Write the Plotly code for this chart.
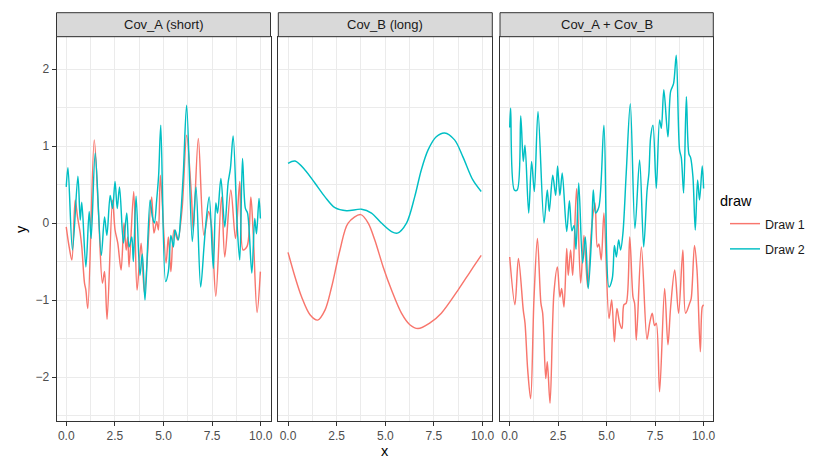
import plotly.graph_objects as go

# ---------------- data ----------------
panels = ["Cov_A (short)", "Cov_B (long)", "Cov_A + Cov_B"]
draws = ["Draw 1", "Draw 2"]
colors = ["#F8766D", "#00BFC4"]
legend_title = "draw"

# Panel 1: Cov_A (short)
a_d1_x = [0, 0.15, 0.29, 0.46, 0.58, 0.72, 0.8, 0.94, 1.01, 1.11, 1.44, 1.66, 1.86, 1.97, 2.1,
          2.38, 2.51, 2.65, 2.82, 2.97, 3.08, 3.16, 3.23, 3.47, 3.64, 3.85, 4.02, 4.39, 4.51,
          4.65, 4.74, 4.84, 5.13, 5.25, 5.38, 5.54, 5.73, 5.95, 6.19, 6.44, 6.53, 6.79, 7.08,
          7.32, 7.47, 7.69, 7.98, 8.15, 8.46, 8.7, 8.92, 9.09, 9.3, 9.49, 9.61, 9.81, 9.98]
a_d1_y = [-0.05, -0.31, -0.48, 0.3, 0.08, -0.13, -0.31, -0.78, -0.87, -1.11, 1.08, 0.13, -0.78,
          -0.63, -1.25, 0.3, -0.09, -0.26, -0.61, 0.0, -0.35, -0.18, -0.57, 0.41, -0.87, -0.26,
          -0.91, 0.34, -0.13, 0.02, -0.09, 0.62, -0.52, -0.18, -0.63, -0.09, -0.22, 0.17, 1.14,
          0.34, -0.09, 1.1, -0.16, 0.15, -0.05, -0.95, 0.34, -0.44, 0.43, -0.2, 0.54, -0.35,
          -0.3, 0.34, -0.13, -1.16, -0.63]
a_d2_x = [0, 0.09, 0.32, 0.6, 0.72, 0.8, 1.01, 1.18, 1.28, 1.49, 1.8, 1.97, 2.09, 2.26, 2.38,
          2.51, 2.62, 2.74, 2.94, 3.11, 3.23, 3.37, 3.45, 3.59, 3.79, 3.91, 4.05, 4.31, 4.43,
          4.53, 4.65, 4.75, 4.86, 5.11, 5.25, 5.38, 5.51, 5.59, 5.76, 5.88, 6.02, 6.19, 6.48,
          6.67, 6.91, 7.08, 7.18, 7.35, 7.56, 7.69, 7.78, 7.95, 8.15, 8.32, 8.44, 8.58, 8.79,
          8.92, 9.06, 9.21, 9.32, 9.54, 9.69, 9.78, 9.91, 9.98]
a_d2_y = [0.47, 0.72, -0.35, 0.61, 0.04, 0.27, -0.57, 0.15, -0.2, 0.91, -0.42, 0.08, -0.16,
          0.36, 0.19, 0.54, 0.19, 0.47, -0.26, 0.13, -0.31, -0.18, -0.5, 0.35, -0.68, -0.4,
          -1.0, 0.3, 0.08, 0.0, 0.3, 0.62, 1.27, -0.76, -0.63, -0.16, -0.31, -0.09, -0.22, 0.08,
          0.65, 1.53, -0.24, 0.47, -0.83, -0.31, 0.0, 0.34, -0.59, 0.26, 0.13, 0.58, -0.05,
          0.52, 0.71, 1.13, -0.05, -0.48, 0.84, 0.19, 0.13, -0.65, 0.06, -0.14, 0.32, 0.06]

# Panel 2: Cov_B (long)
b_d1_x = [0, 0.36, 0.7, 1.13, 1.52, 1.9, 2.24, 2.67, 3.09, 3.74, 4.12, 4.46, 4.89, 5.32, 5.83,
          6.26, 6.68, 7.28, 7.88, 8.74, 9.42, 9.93]
b_d1_y = [-0.38, -0.7, -0.96, -1.19, -1.26, -1.13, -0.83, -0.35, 0.0, 0.11, 0.0, -0.22, -0.57,
          -0.87, -1.17, -1.32, -1.37, -1.3, -1.17, -0.87, -0.61, -0.42]
b_d2_x = [0, 0.36, 0.87, 1.38, 1.9, 2.41, 3.01, 3.78, 4.29, 4.8, 5.32, 5.62, 6.09, 6.51, 6.85,
          7.2, 7.62, 8.05, 8.56, 8.99, 9.5, 9.93]
b_d2_y = [0.775, 0.805, 0.69, 0.52, 0.34, 0.2, 0.16, 0.18, 0.13, 0.0, -0.11, -0.13, 0.0, 0.34,
          0.69, 0.95, 1.12, 1.17, 1.08, 0.86, 0.56, 0.41]

# Panel 3: Cov_A + Cov_B
c_d1_x = [0, 0.27, 0.45, 0.7, 0.79, 0.93, 1.08, 1.25, 1.43, 1.61, 1.7, 1.86, 1.94, 2.08, 2.28,
          2.46, 2.59, 2.68, 2.8, 2.94, 3.02, 3.14, 3.25, 3.45, 3.66, 3.83, 4.02, 4.23, 4.4,
          4.52, 4.6, 4.72, 4.86, 5.12, 5.26, 5.4, 5.53, 5.67, 5.79, 5.89, 6.01, 6.19, 6.36,
          6.44, 6.53, 6.79, 7.08, 7.22, 7.35, 7.47, 7.56, 7.73, 7.99, 8.16, 8.3, 8.51, 8.71,
          8.93, 9.07, 9.28, 9.36, 9.53, 9.66, 9.83, 9.93, 10.0]
c_d1_y = [-0.44, -1.06, -0.46, -1.13, -1.3, -1.91, -2.28, -1.0, -0.2, -1.04, -1.17, -2.02, -1.8,
          -2.34, -0.91, -0.57, -0.96, -0.85, -1.09, -0.33, -0.68, -0.35, -0.68, 0.45, -0.78,
          -0.16, -0.83, -0.05, 0.26, -0.31, -0.27, -0.48, 0.13, -1.24, -1.0, -1.54, -1.11, -1.3,
          -1.37, -1.06, -1.04, -0.18, -0.96, -1.04, -1.52, -0.31, -1.51, -1.3, -1.17, -1.33,
          -1.3, -2.19, -0.85, -1.58, -1.09, -0.61, -1.17, -0.35, -1.17, -1.04, -0.98, -0.29,
          -0.61, -1.67, -1.09, -1.06]
c_d2_x = [0, 0.05, 0.24, 0.39, 0.57, 0.7, 0.79, 0.98, 1.13, 1.27, 1.46, 1.77, 1.94, 2.04, 2.22,
          2.37, 2.47, 2.59, 2.71, 2.94, 3.08, 3.21, 3.32, 3.42, 3.56, 3.76, 3.9, 4.05, 4.23,
          4.31, 4.43, 4.6, 4.86, 5.12, 5.29, 5.4, 5.5, 5.62, 5.72, 5.84, 6.01, 6.22, 6.46, 6.7,
          6.91, 7.08, 7.18, 7.27, 7.39, 7.56, 7.73, 7.82, 7.95, 8.16, 8.3, 8.45, 8.59, 8.76,
          8.85, 8.97, 9.11, 9.24, 9.33, 9.45, 9.57, 9.69, 9.79, 9.93, 10.0]
c_d2_y = [1.24, 1.49, 0.43, 0.43, 1.39, 0.8, 1.01, 0.13, 0.8, 0.41, 1.45, 0.0, 0.43, 0.15, 0.62,
          0.36, 0.74, 0.36, 0.65, -0.11, 0.29, -0.1, -0.03, -0.34, 0.52, -0.52, -0.18, -0.85,
          -0.13, 0.43, 0.13, 0.21, 1.27, -0.83, -0.72, -0.29, -0.44, -0.22, -0.35, -0.13, 0.65,
          1.55, -0.07, 0.82, -0.31, 0.41, 0.65, 1.12, 1.27, 0.45, 1.34, 1.23, 1.73, 1.12, 1.71,
          1.81, 2.18, 0.95, 0.85, 0.39, 1.64, 0.9, 0.85, 0.6, -0.09, 0.56, 0.3, 0.74, 0.45]

x_tick_vals = [0, 2.5, 5, 7.5, 10]
x_tick_text = ["0.0", "2.5", "5.0", "7.5", "10.0"]
y_tick_vals = [-2, -1, 0, 1, 2]
y_tick_text = ["\u22122", "\u22121", "0", "1", "2"]

series = [
    [(a_d1_x, a_d1_y), (a_d2_x, a_d2_y)],
    [(b_d1_x, b_d1_y), (b_d2_x, b_d2_y)],
    [(c_d1_x, c_d1_y), (c_d2_x, c_d2_y)],
]

# ---------------- layout geometry ----------------
W, H = 818, 463
px_dom = [(56.5, 270.5), (278.3, 492.3), (500.0, 713.3)]
top_px, bot_px = 36.7, 421.0
strip_top_px = 12.7

def fx(p):
    return p / W

def fy(p):
    return 1 - p / H

FONT = "Liberation Sans, Arial, Helvetica, sans-serif"

fig = go.Figure()

for i, pan in enumerate(series):
    suffix = "" if i == 0 else str(i + 1)
    for j, (xs, ys) in enumerate(pan):
        fig.add_trace(go.Scatter(
            x=xs, y=ys, mode="lines", name=draws[j], legendgroup=draws[j],
            showlegend=(i == 0),
            line=dict(color=colors[j], width=1.45, shape="spline", smoothing=0.9),
            xaxis="x" + suffix, yaxis="y" + suffix, hoverinfo="skip",
        ))

layout = dict(
    width=W, height=H,
    margin=dict(l=0, r=0, t=0, b=0, autoexpand=False),
    paper_bgcolor="white", plot_bgcolor="white",
    font=dict(family=FONT, color="#4D4D4D"),
    showlegend=True,
    legend=dict(
        font=dict(size=12.5, color="#1A1A1A", family=FONT),
        x=fx(725), xanchor="left", y=fy(209), yanchor="top",
        bgcolor="rgba(0,0,0,0)", tracegroupgap=6, itemwidth=30,
    ),
)

shapes = []
annotations = []
for i, (l, r) in enumerate(px_dom):
    suffix = "" if i == 0 else str(i + 1)
    layout["xaxis" + suffix] = dict(
        domain=[fx(l), fx(r)], anchor="y" + suffix, range=[-0.5, 10.5],
        tickmode="array", tickvals=x_tick_vals, ticktext=x_tick_text,
        ticks="outside", ticklen=4, tickwidth=1, tickcolor="#333333",
        tickfont=dict(size=12, color="#4D4D4D", family=FONT),
        showgrid=True, gridcolor="#EBEBEB", gridwidth=1.1,
        minor=dict(tickmode="array", tickvals=[1.25, 3.75, 6.25, 8.75], showgrid=True,
                   gridcolor="#EBEBEB", gridwidth=0.55, ticks=""),
        showline=True, mirror=True, linecolor="#333333", linewidth=1,
        zeroline=False, automargin=False, fixedrange=True,
    )
    layout["yaxis" + suffix] = dict(
        domain=[fy(bot_px), fy(top_px)], anchor="x" + suffix, range=[-2.57, 2.42],
        tickmode="array", tickvals=y_tick_vals, ticktext=y_tick_text,
        ticks="outside" if i == 0 else "", ticklen=4, tickwidth=1, tickcolor="#333333",
        showticklabels=(i == 0),
        tickfont=dict(size=12, color="#4D4D4D", family=FONT),
        showgrid=True, gridcolor="#EBEBEB", gridwidth=1.1,
        minor=dict(tickmode="array", tickvals=[-2.5, -1.5, -0.5, 0.5, 1.5], showgrid=True,
                   gridcolor="#EBEBEB", gridwidth=0.55, ticks=""),
        showline=True, mirror=True, linecolor="#333333", linewidth=1,
        zeroline=False, automargin=False, fixedrange=True,
    )
    shapes.append(dict(type="rect", xref="paper", yref="paper",
                       x0=fx(l), x1=fx(r), y0=fy(top_px), y1=fy(strip_top_px),
                       fillcolor="#D9D9D9", line=dict(color="#333333", width=1), layer="above"))
    annotations.append(dict(text=panels[i], xref="paper", yref="paper",
                            x=fx((l + r) / 2), y=fy((top_px + strip_top_px) / 2),
                            xanchor="center", yanchor="middle", showarrow=False,
                            font=dict(size=13, color="#1A1A1A", family=FONT)))

annotations.append(dict(text="x", xref="paper", yref="paper", x=fx(385), y=fy(451),
                        xanchor="center", yanchor="middle", showarrow=False,
                        font=dict(size=14.5, color="#000000", family=FONT)))
annotations.append(dict(text="y", xref="paper", yref="paper", x=fx(21), y=fy(229),
                        xanchor="center", yanchor="middle", showarrow=False, textangle=-90,
                        font=dict(size=14.5, color="#000000", family=FONT)))
# legend title
annotations.append(dict(text=legend_title, xref="paper", yref="paper", x=fx(718), y=fy(201),
                        xanchor="left", yanchor="middle", showarrow=False,
                        font=dict(size=14.5, color="#000000", family=FONT)))

layout["shapes"] = shapes
layout["annotations"] = annotations
fig.update_layout(**layout)

fig.write_html("out.html")
